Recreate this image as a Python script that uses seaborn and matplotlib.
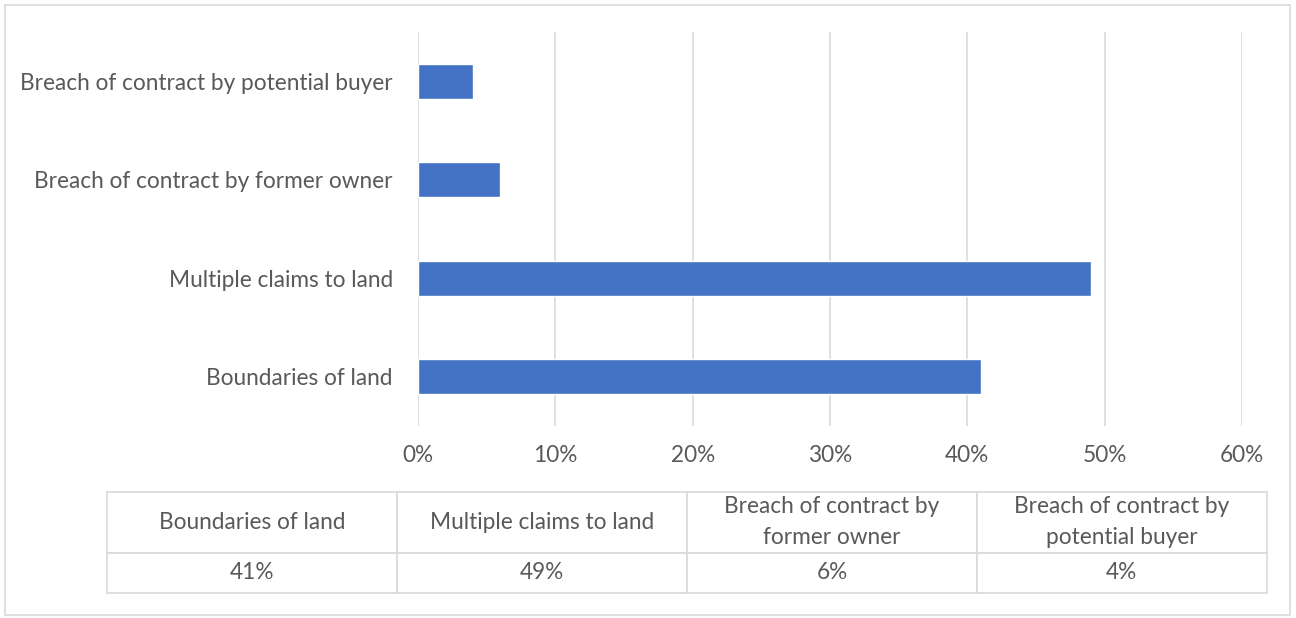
import textwrap
import matplotlib
matplotlib.use("Agg")
import matplotlib.pyplot as plt
from matplotlib.patches import Rectangle
from matplotlib.ticker import PercentFormatter
import seaborn as sns
import pandas as pd

# Share of land dispute types (percent)
categories = [
    "Boundaries of land",
    "Multiple claims to land",
    "Breach of contract by former owner",
    "Breach of contract by potential buyer",
]
shares = [41, 49, 6, 4]
x_ticks = [0, 10, 20, 30, 40, 50, 60]

BAR_COLOR = "#4472C4"
TEXT_COLOR = "#595959"
GRID_COLOR = "#D9D9D9"
FONT_SIZE = 16.3

sns.set_theme(style="white")
plt.rcParams["font.family"] = ["Lato", "DejaVu Sans"]

df = pd.DataFrame({"category": categories, "share": shares})
plot_order = categories[::-1]

W, H = 1296, 618
fig = plt.figure(figsize=(W / 100, H / 100), dpi=100)

# Light frame around the whole chart
fig.add_artist(Rectangle((5 / W, 3 / H), 1285 / W, 610 / H, transform=fig.transFigure,
                         fill=False, edgecolor=GRID_COLOR, linewidth=1.2))

# Bar chart area
ax = fig.add_axes([418 / W, 1 - 426 / H, (1242 - 418) / W, (426 - 32) / H])
sns.barplot(data=df, y="category", x="share", order=plot_order, color=BAR_COLOR,
            width=0.36, saturation=1, ax=ax, zorder=3)
ax.set_xlim(x_ticks[0], x_ticks[-1])
ax.set_xticks(x_ticks)
ax.xaxis.set_major_formatter(PercentFormatter(decimals=0))
ax.grid(axis="x", color=GRID_COLOR, linewidth=1.2, zorder=0)
ax.grid(axis="y", visible=False)
for s in ax.spines.values():
    s.set_visible(False)
ax.set_xlabel("")
ax.set_ylabel("")
ax.tick_params(axis="x", length=0, pad=14, labelsize=FONT_SIZE, labelcolor=TEXT_COLOR)
ax.tick_params(axis="y", length=0, pad=18, labelsize=FONT_SIZE, labelcolor=TEXT_COLOR)

# Data table below the chart
tax = fig.add_axes([107.5 / W, 1 - 592.5 / H, (1266.7 - 107.5) / W, (592.5 - 491.7) / H])
tax.axis("off")
header = [textwrap.fill(c, 24) for c in categories]
values = [f"{v:.0f}%" for v in shares]
table = tax.table(cellText=[header, values], cellLoc="center", bbox=[0, 0, 1, 1])
table.auto_set_font_size(False)
for (r, c), cell in table.get_celld().items():
    cell.set_edgecolor(GRID_COLOR)
    cell.set_linewidth(1.2)
    cell.set_height(61 if r == 0 else 40)
    cell.get_text().set_color(TEXT_COLOR)
    cell.get_text().set_fontsize(FONT_SIZE)
    cell.get_text().set_linespacing(1.6)

fig.savefig("out.png", dpi=100, facecolor="white")
